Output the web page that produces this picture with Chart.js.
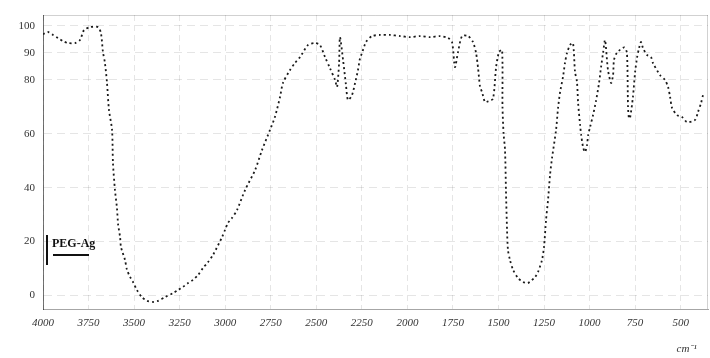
<!DOCTYPE html>
<html>
<head>
<meta charset="utf-8">
<script src="https://cdn.jsdelivr.net/npm/chart.js@4/dist/chart.umd.min.js"></script>
<style>
  html, body { margin: 0; padding: 0; background: #ffffff; }
  #wrap { position: relative; width: 710px; height: 358px; }
</style>
</head>
<body>
<div id="wrap"><canvas id="c" width="710" height="358"></canvas></div>
<script>
// Series: PEG-Ag FTIR spectrum (wavenumber cm-1, transmittance %)
const seriesName = "PEG-Ag";
const wavenumbers = [
  4000, 3973, 3945, 3918, 3890, 3863, 3824, 3797, 3775, 3742, 3698, 3682, 3671, 3660, 3649, 3638,
  3621, 3616, 3605, 3594, 3588, 3577, 3572, 3550, 3539, 3522, 3506, 3484, 3457, 3429, 3396, 3369,
  3330, 3286, 3259, 3232, 3204, 3177, 3149, 3122, 3094, 3067, 3017, 3001, 2985, 2963, 2935, 2891,
  2836, 2798, 2754, 2727, 2699, 2683, 2644, 2617, 2589, 2545, 2507, 2480, 2452, 2425, 2397, 2386,
  2375, 2370, 2353, 2337, 2326, 2304, 2287, 2271, 2260, 2249, 2227, 2194, 2150, 2095, 2040, 1986,
  1931, 1876, 1821, 1777, 1755, 1739, 1722, 1700, 1667, 1640, 1623, 1612, 1601, 1590, 1574, 1557,
  1530, 1513, 1497, 1480, 1478, 1472, 1464, 1459, 1453, 1448, 1437, 1420, 1393, 1365, 1338, 1299,
  1283, 1261, 1250, 1239, 1228, 1217, 1206, 1184, 1173, 1162, 1146, 1135, 1124, 1107, 1091, 1080,
  1069, 1063, 1052, 1046, 1036, 1025, 1014, 1008, 997, 981, 965, 948, 937, 926, 915, 899,
  882, 871, 866, 850, 810, 795, 789, 784, 778, 762, 750, 739, 728, 718, 707, 685,
  663, 652, 613, 586, 569, 558, 547, 520, 493, 465, 421, 405, 388, 377, 366
];
const transmittance = [
  96.9, 97.7, 96.6, 95.5, 94.3, 93.6, 93.6, 94.7, 98.4, 99.5, 99.5, 97.3, 90.3, 86.2, 79.1, 68.8,
  61.4, 49.1, 39.1, 32.4, 26.5, 21.7, 18.0, 13.2, 9.5, 6.9, 5.0, 2.0, -0.6, -2.0, -2.4, -2.0,
  -0.6, 0.9, 2.0, 3.2, 4.6, 5.8, 7.6, 10.2, 12.4, 15.0, 21.7, 24.3, 26.9, 28.7, 31.7, 39.1,
  46.5, 53.9, 61.4, 66.2, 73.6, 78.8, 83.6, 86.2, 88.4, 92.9, 93.6, 92.9, 88.4, 84.3, 79.9, 77.3,
  86.0, 95.8, 87.3, 78.0, 72.5, 74.3, 78.8, 83.6, 88.0, 89.9, 94.0, 96.2, 96.6, 96.6, 96.2, 95.8,
  96.2, 95.8, 96.2, 95.5, 94.0, 84.7, 90.3, 96.2, 96.2, 94.0, 89.9, 84.3, 77.3, 75.4, 71.7, 72.0,
  73.0, 84.7, 90.3, 91.0, 70.0, 60.0, 53.9, 39.1, 24.3, 16.9, 13.2, 9.5, 6.5, 5.0, 4.6, 6.9,
  8.7, 13.2, 18.0, 28.0, 35.4, 44.7, 51.0, 61.4, 69.5, 75.4, 81.0, 86.2, 89.9, 92.9, 93.6, 83.0,
  79.1, 71.4, 63.2, 59.5, 55.1, 53.2, 55.8, 59.5, 62.5, 66.9, 72.0, 78.8, 84.7, 89.9, 94.7, 83.6,
  78.8, 81.7, 87.3, 90.0, 92.0, 90.0, 70.0, 65.8, 65.8, 73.6, 82.9, 88.4, 91.8, 94.0, 91.8, 89.2,
  88.4, 86.2, 81.7, 79.9, 77.3, 73.6, 69.5, 66.9, 66.2, 64.3, 65.1, 68.0, 71.4, 74.3, 75.0
];
const xTickValues = [4000, 3750, 3500, 3250, 3000, 2750, 2500, 2250, 2000, 1750, 1500, 1250, 1000, 750, 500];
const yTickValues = [0, 20, 40, 60, 80, 90, 100];
const xUnitLabel = "cm\u207B\u00B9";

const points = wavenumbers.map((w, i) => ({ x: w, y: transmittance[i] }));

const extras = {
  id: 'extras',
  afterDraw(chart) {
    const ctx = chart.ctx;
    const a = chart.chartArea;
    ctx.save();
    // faint frame top/right
    ctx.strokeStyle = 'rgba(0,0,0,0.18)';
    ctx.lineWidth = 1;
    ctx.beginPath();
    ctx.moveTo(a.left, a.top + 0.5); ctx.lineTo(a.right, a.top + 0.5);
    ctx.moveTo(a.right - 0.5, a.top); ctx.lineTo(a.right - 0.5, a.bottom);
    ctx.stroke();
    // legend inside plot
    const lx = a.left + 4, ly = a.top + 220;
    ctx.strokeStyle = '#111';
    ctx.lineWidth = 2;
    ctx.beginPath();
    ctx.moveTo(lx, ly); ctx.lineTo(lx, ly + 30);
    ctx.stroke();
    ctx.fillStyle = '#111';
    ctx.font = 'bold 12px "Liberation Serif", serif';
    ctx.textAlign = 'left';
    ctx.textBaseline = 'middle';
    ctx.fillText(seriesName, lx + 5, ly + 9);
    ctx.lineWidth = 2;
    ctx.beginPath();
    ctx.moveTo(lx + 6, ly + 20); ctx.lineTo(lx + 42, ly + 20);
    ctx.stroke();
    // unit label under last tick
    const xs = chart.scales.x;
    ctx.font = 'italic 11px "Liberation Serif", serif';
    ctx.fillStyle = '#333';
    ctx.textAlign = 'center';
    ctx.fillText(xUnitLabel, xs.getPixelForValue(xTickValues[xTickValues.length - 1]) + 6, 349);
    ctx.restore();
  }
};

new Chart(document.getElementById('c'), {
  type: 'line',
  data: {
    datasets: [{
      label: seriesName,
      data: points,
      borderColor: '#1a1a1a',
      borderWidth: 1.8,
      borderDash: [2, 3],
      pointRadius: 0,
      tension: 0.25,
      fill: false
    }]
  },
  options: {
    responsive: false,
    animation: false,
    layout: { padding: { top: 15, right: 2, left: 0, bottom: 0 } },
    plugins: { legend: { display: false }, tooltip: { enabled: false } },
    scales: {
      x: {
        type: 'linear',
        reverse: true,
        min: 350,
        max: 4000,
        afterBuildTicks: (s) => { s.ticks = xTickValues.map(v => ({ value: v })); },
        afterFit: (s) => { s.height = 49; },
        grid: { color: 'rgba(0,0,0,0.10)', drawTicks: false, tickBorderDash: [2,4] },
        border: { display: true, color: 'rgba(0,0,0,0.35)', dash: [6, 4] },
        ticks: {
          padding: 8,
          maxRotation: 0,
          autoSkip: false,
          color: '#333',
          font: { family: '"Liberation Serif", serif', style: 'italic', size: 11 },
          callback: (v) => String(v)
        }
      },
      y: {
        min: -5,
        max: 104,
        afterBuildTicks: (s) => { s.ticks = yTickValues.map(v => ({ value: v })); },
        afterFit: (s) => { s.width = 43; },
        grid: { color: 'rgba(0,0,0,0.10)', drawTicks: false },
        border: { display: true, color: 'rgba(0,0,0,0.55)', dash: [8, 5] },
        ticks: {
          padding: 8,
          color: '#333',
          font: { family: '"Liberation Serif", serif', size: 11 },
          callback: (v) => String(v)
        }
      }
    }
  },
  plugins: [extras]
});
</script>
</body>
</html>
